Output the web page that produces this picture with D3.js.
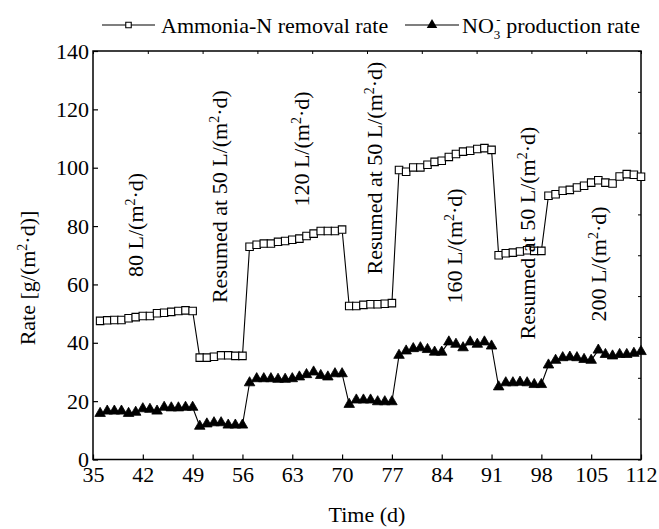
<!DOCTYPE html>
<html>
<head>
<meta charset="utf-8">
<script src="https://cdn.jsdelivr.net/npm/d3@7/dist/d3.min.js"></script>
<style>
html,body{margin:0;padding:0;background:#fff;}
svg{display:block;}
text{font-family:"Liberation Serif","Times New Roman",serif;fill:#000;}
</style>
</head>
<body>
<div id="chart"></div>
<script>
const days = [36,37,38,39,40,41,42,43,44,45,46,47,48,49,
  50,51,52,53,54,55,56,
  57,58,59,60,61,62,63,64,65,66,67,68,69,70,
  71,72,73,74,75,76,77,
  78,79,80,81,82,83,84,85,86,87,88,89,90,91,
  92,93,94,95,96,97,98,
  99,100,101,102,103,104,105,106,107,108,109,110,111,112];
const ammonia = [47.5,47.7,47.8,47.8,48.4,48.8,49.2,49.2,50.1,50.3,50.6,50.9,51.1,50.9,
  34.9,34.9,35.2,35.7,35.7,35.5,35.5,
  72.9,73.6,74.0,74.0,74.6,74.9,75.3,75.7,76.6,77.4,78.3,78.3,78.3,78.8,
  52.6,52.6,53.0,53.2,53.2,53.4,53.6,
  99.2,98.6,100.1,100.1,101.0,102.0,102.4,103.7,104.7,105.5,105.8,106.4,106.7,106.1,
  70.0,70.7,70.9,71.3,71.7,71.5,71.5,
  90.4,90.9,92.1,92.4,93.2,93.8,94.9,95.7,94.9,94.6,97.0,97.8,97.6,96.9];
const nitrate = [15.8,16.6,16.6,16.6,15.8,16.2,17.4,17.2,16.6,17.9,17.7,17.7,17.9,17.9,
  11.4,12.2,12.6,12.6,11.8,11.8,11.8,
  26.3,27.7,27.7,27.7,27.5,27.5,27.7,28.3,29.1,30.0,28.8,28.3,29.4,29.4,
  18.9,20.4,20.4,20.4,19.8,19.8,19.8,
  35.7,37.2,38.0,38.3,37.7,36.8,36.8,40.3,39.5,38.3,40.3,39.5,40.3,38.9,
  24.9,26.3,26.3,26.5,26.3,25.7,25.7,
  32.4,34.0,34.9,35.1,34.9,34.3,34.0,37.5,36.0,35.5,36.0,36.0,36.4,37.0];
const xTicks = [35,42,49,56,63,70,77,84,91,98,105,112];
const yTicks = [0,20,40,60,80,100,120,140];
const seriesNames = ["Ammonia-N removal rate", "production rate"];
// annotations: label text, centre given in data units (day, rate)
const annoLabels = ["80", "Resumed at 50", "120", "Resumed at 50", "160", "Resumed at 50", "200"];
const annoDay = [41.1, 52.9, 64.3, 74.6, 85.9, 96.1, 106.1];
const annoVal = [80.4, 90.1, 106.4, 99.9, 73.2, 77.6, 67.0];

const W = 659, H = 529;
const svg = d3.select("#chart").append("svg").attr("width", W).attr("height", H);
const L = 93, R = 641, T = 51, B = 459.5;
const x = d3.scaleLinear().domain([35,112]).range([L,R]);
const y = d3.scaleLinear().domain([0,140]).range([B,T]);
const FS = 22;

// frame
svg.append("rect").attr("x",L).attr("y",T).attr("width",R-L).attr("height",B-T)
  .attr("fill","none").attr("stroke","#000").attr("stroke-width",1.5);

// bottom axis
const xb = svg.append("g").attr("transform",`translate(0,${B})`)
  .call(d3.axisBottom(x).tickValues(xTicks).tickSizeInner(-5).tickSizeOuter(0).tickPadding(3));
xb.select(".domain").remove();
xb.selectAll("line").attr("stroke","#000").attr("stroke-width",1.2);
xb.selectAll("text").attr("font-size",FS).attr("font-family","Liberation Serif").attr("dy","0.9em");

// left axis
const yl = svg.append("g").attr("transform",`translate(${L},0)`)
  .call(d3.axisLeft(y).tickValues(yTicks).tickSizeInner(-5).tickSizeOuter(0).tickPadding(4));
yl.select(".domain").remove();
yl.selectAll("line").attr("stroke","#000").attr("stroke-width",1.2);
yl.selectAll("text").attr("font-size",FS).attr("font-family","Liberation Serif");

// top / right frame ticks
const xTop = d3.scaleLinear().domain([0,10]).range([L,R]);
const yRight = d3.scaleLinear().domain([0,10]).range([B,T]);
const xt = svg.append("g").attr("transform",`translate(0,${T})`)
  .call(d3.axisTop(xTop).ticks(10).tickSizeInner(-3).tickSizeOuter(0).tickFormat(""));
xt.select(".domain").remove();
xt.selectAll("line").attr("stroke","#000");
const yr = svg.append("g").attr("transform",`translate(${R},0)`)
  .call(d3.axisRight(yRight).ticks(10).tickSizeInner(-3).tickSizeOuter(0).tickFormat(""));
yr.select(".domain").remove();
yr.selectAll("line").attr("stroke","#000");

// axis titles
const yt = svg.append("text").attr("transform",`translate(35,278) rotate(-90)`)
  .attr("text-anchor","middle").attr("font-size",FS);
yt.append("tspan").text("Rate [g/(m");
yt.append("tspan").attr("font-size",14).attr("dy",-8).text("2");
yt.append("tspan").attr("dy",8).text("·d)]");
svg.append("text").attr("x",(L+R)/2).attr("y",522).attr("text-anchor","middle")
  .attr("font-size",FS).text("Time (d)");

// lines
const line = d3.line().x((d,i)=>x(days[i])).y(d=>y(d));
svg.append("path").datum(ammonia).attr("d",line).attr("fill","none").attr("stroke","#000").attr("stroke-width",1.1);
svg.append("path").datum(nitrate).attr("d",line).attr("fill","none").attr("stroke","#000").attr("stroke-width",1.1);

const sq = d3.symbol().type(d3.symbolSquare).size(56);
const tri = d3.symbol().type(d3.symbolTriangle).size(48);
svg.append("g").selectAll("path").data(ammonia).join("path")
  .attr("d",sq).attr("transform",(d,i)=>`translate(${x(days[i])},${y(d)})`)
  .attr("fill","#fff").attr("stroke","#000").attr("stroke-width",1.1);
svg.append("g").selectAll("path").data(nitrate).join("path")
  .attr("d",tri).attr("transform",(d,i)=>`translate(${x(days[i])},${y(d)})`)
  .attr("fill","#000").attr("stroke","#000").attr("stroke-width",0.8);

// annotations
annoLabels.forEach((lab,i)=>{
  const cx = x(annoDay[i]) + 7, cy = y(annoVal[i]);
  const t = svg.append("text").attr("transform",`translate(${cx},${cy}) rotate(-90)`)
    .attr("text-anchor","middle").attr("font-size",FS);
  t.append("tspan").text(lab + " L/(m");
  t.append("tspan").attr("font-size",14).attr("dy",-8).text("2");
  t.append("tspan").attr("dy",8).text("·d)");
});

// legend
const ly = 25;
const lg = svg.append("g");
lg.append("line").attr("x1",102).attr("x2",155).attr("y1",ly).attr("y2",ly).attr("stroke","#000").attr("stroke-width",1.1);
lg.append("path").attr("d",d3.symbol().type(d3.symbolSquare).size(30)).attr("transform",`translate(128.5,${ly})`)
  .attr("fill","#fff").attr("stroke","#000").attr("stroke-width",1.1);
lg.append("text").attr("x",161).attr("y",ly+8).attr("font-size",FS).text(seriesNames[0]);
lg.append("line").attr("x1",405).attr("x2",459).attr("y1",ly).attr("y2",ly).attr("stroke","#000").attr("stroke-width",1.1);
lg.append("path").attr("d",tri).attr("transform",`translate(432,${ly})`).attr("fill","#000");
const lt = lg.append("text").attr("x",462).attr("y",ly+8).attr("font-size",FS);
lt.append("tspan").text("NO");
lt.append("tspan").attr("font-size",13).attr("dy",6).text("3");
lt.append("tspan").attr("font-size",13).attr("dx",-4).attr("dy",-15).text("-");
lt.append("tspan").attr("dy",9).text(" " + seriesNames[1]);
</script>
</body>
</html>
